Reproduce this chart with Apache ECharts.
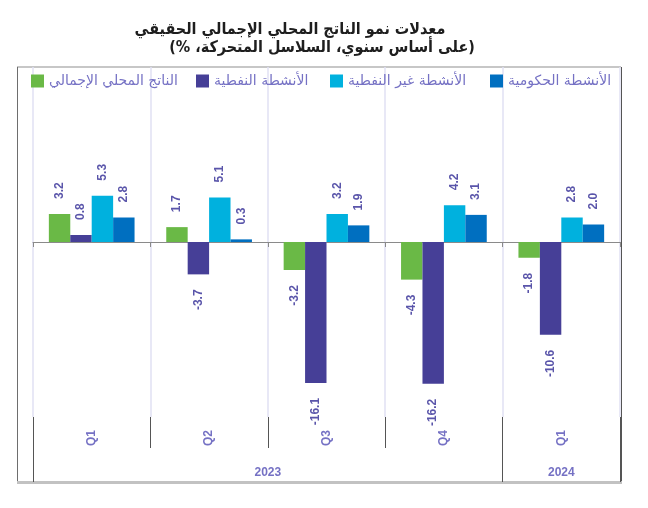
<!DOCTYPE html>
<html><head><meta charset="utf-8">
<script src="https://cdn.jsdelivr.net/npm/echarts@6/dist/echarts.min.js"></script>
<style>html,body{margin:0;padding:0;background:#fff}#c{width:648px;height:508px}</style>
</head><body><div id="c"></div>
<script>
// ---- data ----
const categories = ['Q1', 'Q2', 'Q3', 'Q4', 'Q1'];
const years = ['2023', '2024'];
const yearSpans = [[0, 4], [4, 5]];
const seriesNames = ['الناتج المحلي الإجمالي', 'الأنشطة النفطية', 'الأنشطة غير النفطية', 'الأنشطة الحكومية'];
const gdp = [3.2, 1.7, -3.2, -4.3, -1.8];
const oil = [0.8, -3.7, -16.1, -16.2, -10.6];
const nonOil = [5.3, 5.1, 3.2, 4.2, 2.8];
const gov = [2.8, 0.3, 1.9, 3.1, 2.0];
const titleLine1 = 'معدلات نمو الناتج المحلي الإجمالي الحقيقي';
const titleLine2 = '\u200F(على أساس سنوي، السلاسل المتحركة، %)\u200F';

// ---- styles ----
const colors = ['#6ab946', '#463f97', '#00b1de', '#006fc0'];
const labelColor = '#5a55aa';
const axisTextColor = '#7571c4';
const legendLefts = [31, 196, 330, 490];

const chart = echarts.init(document.getElementById('c'), null, { renderer: 'canvas' });

function makeSeries(name, vals, color) {
  return {
    name: name,
    type: 'bar',
    barGap: '0%',
    barCategoryGap: '27%',
    itemStyle: { color: color },
    label: {
      show: true,
      rotate: 90,
      verticalAlign: 'middle',
      distance: 15,
      color: labelColor,
      fontSize: 12,
      fontWeight: 'bold',
      fontFamily: 'Liberation Sans',
      formatter: p => Number(p.value).toFixed(1)
    },
    data: vals.map(v => ({
      value: v,
      label: v < 0 ? { position: 'bottom', align: 'right' } : { position: 'top', align: 'left' }
    }))
  };
}

const mids = yearSpans.map(s => (s[0] + s[1]) / 2);
const bounds = [];
yearSpans.forEach(s => { if (bounds.indexOf(s[0]) < 0) bounds.push(s[0]); if (bounds.indexOf(s[1]) < 0) bounds.push(s[1]); });

const titleFont = { fontFamily: 'DejaVu Sans Condensed', fontSize: 16, fontWeight: 'bold', color: '#1e1e1e' };

const option = {
  animation: false,
  backgroundColor: '#fff',
  title: [
    { text: titleLine1, left: 290, top: 22, padding: 0, textAlign: 'center', textStyle: titleFont },
    { text: titleLine2, left: 322, top: 40, padding: 0, textAlign: 'center', textStyle: titleFont }
  ],
  legend: seriesNames.map((n, i) => ({
    data: [n], left: legendLefts[i], top: 74, icon: 'rect', itemWidth: 13, itemHeight: 13,
    selectedMode: false, padding: 0, itemGap: 0,
    textStyle: { color: axisTextColor, fontSize: 14, fontFamily: 'DejaVu Sans' }
  })),
  grid: { left: 33, right: 28, top: 67, bottom: 91, containLabel: false },
  xAxis: [
    {
      type: 'category', data: categories, position: 'bottom',
      axisLine: { show: true, onZero: true, lineStyle: { color: '#8a8a8a', width: 1 } },
      axisTick: { show: true, length: 5, lineStyle: { color: '#8a8a8a' } },
      axisLabel: { show: false },
      splitLine: { show: true, lineStyle: { color: '#e0e0f3', width: 1.5 } }
    },
    {
      type: 'category', data: categories, position: 'bottom', offset: 0,
      axisLine: { show: false, onZero: false },
      axisTick: { show: true, length: 31, lineStyle: { color: '#555' } },
      axisLabel: { show: true, rotate: 90, margin: 13, color: axisTextColor, fontSize: 12, fontWeight: 'bold', fontFamily: 'Liberation Sans' },
      splitLine: { show: false }
    },
    {
      type: 'value', min: 0, max: categories.length, position: 'bottom', offset: 31,
      axisLine: { show: false, onZero: false },
      axisTick: { show: true, length: 34, customValues: bounds, lineStyle: { color: '#555' } },
      axisLabel: { show: true, customValues: mids, margin: 19, color: axisTextColor, fontSize: 12, fontWeight: 'bold', fontFamily: 'Liberation Sans',
        formatter: v => years[mids.indexOf(v)] },
      splitLine: { show: false }
    }
  ],
  yAxis: {
    type: 'value', min: -20, max: 20, show: false, splitLine: { show: false }
  },
  series: [
    makeSeries(seriesNames[0], gdp, colors[0]),
    makeSeries(seriesNames[1], oil, colors[1]),
    makeSeries(seriesNames[2], nonOil, colors[2]),
    makeSeries(seriesNames[3], gov, colors[3])
  ],
  graphic: [
    { type: 'line', silent: true, shape: { x1: 17, y1: 67, x2: 621, y2: 67 }, style: { stroke: '#b4b4b4', lineWidth: 1.5 } },
    { type: 'line', silent: true, shape: { x1: 17.5, y1: 67, x2: 17.5, y2: 482 }, style: { stroke: '#6e6e6e', lineWidth: 1 } },
    { type: 'line', silent: true, shape: { x1: 621.5, y1: 67, x2: 621.5, y2: 482 }, style: { stroke: '#555', lineWidth: 1 } },
    { type: 'line', silent: true, shape: { x1: 17, y1: 482.5, x2: 622, y2: 482.5 }, style: { stroke: '#c2c2c2', lineWidth: 3 } }
  ]
};
chart.setOption(option);
</script>
</body></html>
